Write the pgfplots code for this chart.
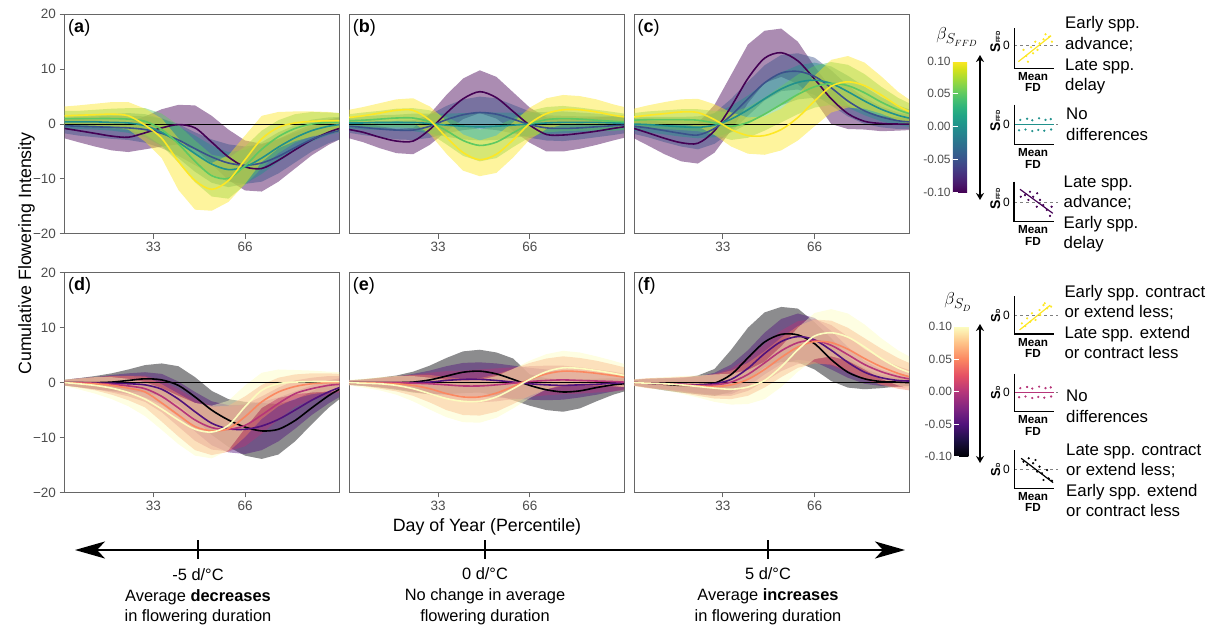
\documentclass[border=0pt]{standalone}
\usepackage{fontspec}
\setmainfont{Liberation Sans}
\usepackage{pgfplots}
\pgfplotsset{compat=1.18}
\usepackage{pgfplotstable}
\usepgfplotslibrary{fillbetween}
\usetikzlibrary{arrows.meta}

\newcommand\fs[1]{\fontsize{#1}{#1}\selectfont}
\definecolor{V1}{HTML}{440154}
\definecolor{V2}{HTML}{3B528B}
\definecolor{V3}{HTML}{21918C}
\definecolor{V4}{HTML}{5EC962}
\definecolor{V5}{HTML}{FDE725}
\definecolor{M1}{HTML}{000004}
\definecolor{M2}{HTML}{51127C}
\definecolor{M3}{HTML}{B63679}
\definecolor{M4}{HTML}{FB8861}
\definecolor{M5}{HTML}{FCFDBF}
\definecolor{frm}{HTML}{666666}
\definecolor{ticklab}{HTML}{4D4D4D}

\pgfplotsset{
  colormap={magma}{rgb255=(0,0,4) rgb255=(28,16,68) rgb255=(79,18,123) rgb255=(129,37,129) rgb255=(181,54,122) rgb255=(229,80,100) rgb255=(251,135,97) rgb255=(254,194,135) rgb255=(252,253,191)},
  panel/.style={scale only axis, width=275pt, height=219.5pt,
    xmin=1, xmax=100, ymin=-20, ymax=20,
    xtick={33,66}, xticklabels={33,66}, ytick={-20,-10,0,10,20},
    axis line style={draw=frm, line width=0.9pt},
    tick style={draw=frm, line width=0.9pt}, tick align=outside, major tick length=5pt,
    xtick pos=left, ytick pos=left,
    tick label style={font=\fs{13.5}, text=ticklab}},
  inset/.style={scale only axis, width=40pt, xmin=0, xmax=10, hide axis, clip=false},
}
\tikzset{plab/.style={anchor=north west, inner sep=0pt, font=\fs{18}, xshift=3.5pt, yshift=-4.5pt}}

\newcommand\rib[3]{%
  \addplot[draw=none, name path=lo#2, forget plot] table[x=x,y=l#2]{#1};
  \addplot[draw=none, name path=hi#2, forget plot] table[x=x,y=h#2]{#1};
  \addplot[fill=#3, fill opacity=0.45, draw=none, forget plot] fill between[of=lo#2 and hi#2];
}
\newcommand\lin[3]{\addplot[#3, line width=1.6pt, smooth, forget plot] table[x=x,y=m#2]{#1};}
\newcommand\allplots[2]{%
  \rib{#1}{1}{#21}\rib{#1}{2}{#22}\rib{#1}{3}{#23}\rib{#1}{4}{#24}\rib{#1}{5}{#25}
  \addplot[black, line width=0.9pt, forget plot] coordinates {(1,0) (100,0)};
  \lin{#1}{1}{#21}\lin{#1}{2}{#22}\lin{#1}{3}{#23}\lin{#1}{4}{#24}\lin{#1}{5}{#25}
}
\newcommand\tl[3]{\node[anchor=base west, inner sep=0pt, font=\fs{16.8}] at (#1pt,-#2pt) {#3};}
\newcommand\ct[4]{\node[anchor=base, inner sep=0pt, font=\fs{#1}] at (#2pt,-#3pt) {#4};}

\pgfplotstableread{
x m1 l1 h1 m2 l2 h2 m3 l3 h3 m4 l4 h4 m5 l5 h5
1 -0.8 -2.6 1.0 -0.3 -1.7 1.1 0.4 -0.8 1.6 1.0 -0.4 2.4 1.5 -0.2 3.2
6 -1.2 -3.3 0.9 -0.4 -2.1 1.3 0.4 -0.9 1.7 1.0 -0.4 2.4 1.6 -0.2 3.4
12 -1.7 -4.1 0.7 -0.5 -2.4 1.4 0.4 -1.0 1.8 1.0 -0.6 2.6 1.7 -0.3 3.7
18 -2.2 -4.8 0.4 -0.6 -2.7 1.5 0.3 -1.2 1.8 1.0 -0.8 2.8 1.8 -0.4 4.0
24 -2.4 -5.1 0.3 -0.7 -2.9 1.5 0.2 -1.6 2.0 0.9 -1.1 2.9 1.5 -1.0 4.0
30 -1.6 -4.6 1.4 -1.0 -3.4 1.4 -0.3 -2.4 1.8 0.5 -1.9 2.9 -0.2 -3.2 2.8
36 -0.7 -4.1 2.7 -1.7 -4.4 1.0 -1.5 -4.0 1.0 -1.0 -3.9 1.9 -2.6 -6.2 1.0
42 -0.1 -3.7 3.5 -2.9 -5.8 0.0 -3.3 -6.2 -0.4 -3.6 -7.0 -0.2 -6.8 -12.0 -2.6
48 -0.7 -4.5 3.4 -4.5 -7.5 -1.5 -5.4 -8.7 -2.1 -6.8 -10.6 -3.0 -10.3 -15.6 -5.6
54 -3.3 -7.3 1.5 -6.0 -9.2 -2.8 -7.3 -10.7 -3.9 -9.4 -13.2 -5.6 -11.9 -15.8 -7.1
60 -6.0 -10.2 -1.0 -7.1 -10.5 -3.7 -8.3 -11.5 -5.1 -9.9 -13.6 -6.2 -10.3 -14.2 -5.7
66 -7.8 -12.1 -3.0 -7.5 -10.9 -4.1 -7.8 -10.9 -4.7 -7.6 -11.1 -4.1 -6.5 -10.9 -2.1
72 -8.1 -12.3 -3.6 -7.1 -10.5 -3.7 -6.2 -9.1 -3.3 -4.6 -8.0 -1.2 -2.7 -6.9 1.5
78 -6.6 -10.5 -2.7 -5.9 -9.0 -2.8 -4.2 -6.9 -1.5 -2.3 -5.3 0.7 -0.6 -4.4 2.2
84 -4.7 -8.1 -1.3 -4.3 -7.0 -1.6 -2.5 -4.8 -0.2 -0.8 -3.4 1.8 0.2 -3.1 2.3
90 -2.9 -5.7 -0.1 -2.8 -5.0 -0.6 -1.2 -3.2 0.8 0.0 -2.2 2.2 0.5 -2.3 2.3
96 -1.5 -3.8 0.8 -1.7 -3.5 0.1 -0.4 -2.0 1.2 0.3 -1.5 2.1 0.6 -1.7 2.2
100 -0.8 -2.8 1.2 -1.2 -2.8 0.4 -0.1 -1.5 1.3 0.4 -1.2 2.0 0.6 -1.4 2.0
}\Ta
\pgfplotstableread{
x m1 l1 h1 m2 l2 h2 m3 l3 h3 m4 l4 h4 m5 l5 h5
1 -1.0 -2.6 0.6 -0.4 -1.6 0.8 0.2 -0.8 1.2 0.6 -0.6 1.8 1.2 -0.2 2.6
6 -1.5 -3.3 0.3 -0.6 -2.0 0.8 0.2 -1.0 1.4 0.7 -0.7 2.1 1.5 -0.1 3.1
12 -2.4 -4.4 -0.4 -0.9 -2.4 0.6 0.3 -1.0 1.6 0.9 -0.6 2.4 2.0 0.2 3.8
18 -3.1 -5.3 -0.9 -1.1 -2.8 0.6 0.3 -1.1 1.7 1.1 -0.6 2.8 2.5 0.5 4.5
24 -3.1 -5.5 -0.7 -1.1 -2.9 0.7 0.3 -1.3 1.9 1.1 -0.7 2.9 2.5 0.3 4.7
30 -1.0 -3.8 1.8 -0.4 -2.5 1.7 0.1 -1.7 1.9 0.4 -1.7 2.5 0.7 -1.8 3.2
36 2.0 -1.3 5.3 0.8 -1.7 3.3 -0.2 -2.3 1.9 -1.2 -3.7 1.3 -2.4 -5.4 0.6
42 4.6 0.9 8.3 1.7 -1.1 4.5 -0.4 -2.8 2.0 -3.0 -5.8 -0.2 -5.2 -8.5 -1.9
48 5.9 2.0 9.8 2.1 -0.8 5.0 -0.5 -3.0 2.0 -3.9 -6.8 -1.0 -6.5 -9.5 -3.0
54 4.8 1.0 8.6 1.8 -1.1 4.7 -0.4 -2.9 2.1 -3.3 -6.2 -0.4 -5.5 -8.9 -2.1
60 2.3 -1.2 5.8 0.9 -1.7 3.5 -0.2 -2.5 2.1 -1.6 -4.2 1.0 -2.9 -6.1 0.3
66 -0.2 -3.4 3.0 -0.1 -2.5 2.3 0.0 -2.1 2.1 0.0 -2.4 2.4 0.1 -2.8 3.0
72 -1.9 -5.0 1.2 -0.7 -3.0 1.6 0.2 -1.8 2.2 0.8 -1.5 3.1 1.9 -0.9 4.7
78 -2.0 -5.0 1.0 -0.8 -3.1 1.5 0.3 -1.7 2.3 1.0 -1.3 3.3 2.6 -0.1 5.3
84 -1.7 -4.5 1.1 -0.7 -2.8 1.4 0.3 -1.5 2.1 0.9 -1.2 3.0 2.6 0.1 5.1
90 -1.3 -3.8 1.2 -0.5 -2.4 1.4 0.3 -1.3 1.9 0.7 -1.2 2.6 2.2 -0.1 4.5
96 -0.8 -3.0 1.4 -0.3 -2.0 1.4 0.2 -1.2 1.6 0.5 -1.2 2.2 1.6 -0.4 3.6
100 -0.5 -2.5 1.5 -0.2 -1.7 1.3 0.2 -1.1 1.5 0.4 -1.1 1.9 1.3 -0.5 3.1
}\Tb
\pgfplotstableread{
x m1 l1 h1 m2 l2 h2 m3 l3 h3 m4 l4 h4 m5 l5 h5
1 -0.8 -2.6 1.0 -0.4 -1.8 1.0 0.0 -1.2 1.2 0.7 -0.6 2.0 1.3 -0.2 2.8
6 -1.6 -3.9 0.7 -0.7 -2.4 1.0 -0.1 -1.5 1.3 0.8 -0.7 2.3 1.6 -0.2 3.4
12 -2.6 -5.5 0.3 -1.2 -3.3 0.9 -0.3 -1.9 1.3 0.8 -0.9 2.5 1.9 -0.2 4.0
18 -3.4 -6.8 0.0 -1.7 -4.1 0.7 -0.5 -2.3 1.3 0.8 -1.1 2.7 2.2 -0.1 4.5
24 -3.5 -7.2 0.2 -2.0 -4.6 0.6 -0.6 -2.6 1.4 0.7 -1.3 2.7 2.1 -0.4 4.6
30 -1.2 -5.2 3.5 -0.8 -3.6 2.0 -0.2 -2.4 2.0 0.2 -2.0 2.4 0.8 -2.0 3.6
36 3.2 -1.1 9.0 1.6 -1.4 4.6 0.9 -1.5 3.3 -0.4 -2.9 2.1 -1.0 -4.1 2.1
42 8.3 3.8 14.5 4.6 1.5 7.7 2.6 0.0 5.2 0.3 -2.5 3.1 -2.1 -5.4 1.2
48 12.0 7.5 17.0 7.5 4.3 10.7 4.6 1.8 7.4 1.8 -1.2 4.8 -2.1 -5.6 1.4
54 13.0 8.6 17.4 9.3 6.0 12.6 6.4 3.4 9.4 3.6 0.3 6.9 -1.0 -4.8 2.8
60 11.5 7.3 15.0 9.6 6.3 12.9 7.6 4.5 10.7 5.4 1.8 9.0 1.2 -3.0 5.4
66 8.2 4.4 10.5 8.7 5.3 12.1 8.0 4.8 11.2 6.8 3.0 10.6 4.2 -0.4 8.8
72 4.6 0.0 6.5 6.6 3.4 9.8 7.4 4.3 10.5 7.4 3.5 11.3 6.9 2.1 11.7
78 1.9 -0.9 3.5 4.2 1.4 7.0 5.9 3.0 8.8 7.0 3.2 10.8 7.7 3.0 12.4
84 0.5 -1.0 2.3 2.4 0.0 4.8 4.2 1.6 6.8 5.7 2.3 9.1 7.0 2.8 11.2
90 0.1 -1.3 1.5 1.3 -0.6 3.2 2.7 0.5 4.9 4.0 1.2 6.8 5.3 1.9 8.7
96 0.0 -1.2 1.2 0.6 -0.9 2.1 1.6 -0.2 3.4 2.6 0.4 4.8 3.3 0.7 5.9
100 0.0 -1.1 1.1 0.4 -0.9 1.7 1.1 -0.5 2.7 1.9 0.0 3.8 2.3 0.1 4.5
}\Tc
\pgfplotstableread{
x m1 l1 h1 m2 l2 h2 m3 l3 h3 m4 l4 h4 m5 l5 h5
1 0.0 -0.5 0.5 0.0 -0.5 0.5 0.0 -0.5 0.5 0.0 -0.5 0.5 0.0 -0.6 0.6
6 0.0 -0.8 0.8 0.0 -0.8 0.8 0.0 -0.8 0.8 -0.1 -0.9 0.7 -0.2 -1.2 0.8
12 0.0 -1.2 1.2 -0.1 -1.2 1.0 -0.1 -1.2 1.0 -0.2 -1.4 1.0 -0.5 -2.0 1.0
18 0.1 -1.5 1.7 -0.1 -1.6 1.4 -0.3 -1.8 1.2 -0.5 -2.2 1.2 -1.0 -3.0 1.0
24 0.4 -1.6 2.4 -0.2 -2.1 1.7 -0.6 -2.5 1.3 -1.0 -3.2 1.2 -1.8 -4.3 0.7
30 0.7 -1.8 3.2 -0.4 -2.7 1.9 -1.1 -3.5 1.3 -1.7 -4.5 1.1 -3.0 -6.1 0.1
36 0.5 -2.5 3.5 -1.2 -4.0 1.6 -2.5 -5.4 0.4 -3.7 -7.1 -0.3 -4.8 -8.6 -1.0
42 -0.5 -4.0 3.0 -3.0 -6.2 0.2 -4.6 -8.0 -1.2 -5.9 -9.8 -2.0 -6.8 -11.2 -2.4
48 -2.6 -6.6 1.0 -5.3 -8.9 -1.7 -6.8 -10.6 -3.0 -8.0 -12.3 -3.7 -8.5 -13.3 -3.7
54 -5.0 -9.5 -1.5 -7.4 -11.4 -3.4 -8.2 -12.2 -4.2 -8.8 -13.2 -4.4 -9.0 -13.8 -4.2
60 -6.8 -11.7 -3.0 -8.4 -12.7 -4.1 -8.5 -12.5 -4.5 -8.4 -12.6 -4.2 -7.8 -12.3 -3.3
66 -8.1 -13.3 -3.5 -8.5 -13.0 -4.0 -7.8 -11.6 -4.0 -6.2 -9.9 -2.5 -4.4 -8.3 -0.5
72 -8.8 -13.9 -3.7 -7.9 -12.3 -3.5 -5.9 -9.3 -2.5 -3.5 -6.6 -0.4 -1.4 -4.6 1.8
78 -8.5 -13.1 -3.9 -6.7 -10.7 -2.7 -3.8 -6.7 -0.9 -1.7 -4.3 0.9 -0.2 -2.8 2.4
84 -6.9 -10.7 -3.1 -5.0 -8.4 -1.6 -2.0 -4.4 0.4 -0.7 -2.9 1.5 0.1 -2.1 2.3
90 -4.6 -7.6 -1.6 -3.2 -5.9 -0.5 -1.1 -3.1 0.9 -0.2 -2.1 1.7 0.2 -1.8 2.2
96 -2.4 -4.6 -0.2 -1.7 -3.8 0.4 -0.5 -2.2 1.2 0.0 -1.7 1.7 0.2 -1.6 2.0
100 -1.2 -3.0 0.6 -0.9 -2.6 0.8 -0.3 -1.8 1.2 0.0 -1.6 1.6 0.2 -1.5 1.9
}\Td
\pgfplotstableread{
x m1 l1 h1 m2 l2 h2 m3 l3 h3 m4 l4 h4 m5 l5 h5
1 0.0 -0.4 0.4 0.0 -0.4 0.4 0.0 -0.4 0.4 0.0 -0.4 0.4 0.0 -0.5 0.5
6 0.0 -0.6 0.6 0.0 -0.5 0.5 0.0 -0.5 0.5 0.0 -0.6 0.6 -0.1 -0.9 0.7
12 0.0 -0.9 0.9 0.0 -0.8 0.8 0.0 -0.8 0.8 -0.1 -1.1 0.9 -0.2 -1.4 1.0
18 0.0 -1.3 1.3 0.0 -1.1 1.1 0.0 -1.1 1.1 -0.2 -1.6 1.2 -0.5 -2.2 1.2
24 0.1 -1.8 2.0 0.0 -1.6 1.6 -0.1 -1.6 1.4 -0.5 -2.4 1.4 -1.1 -3.4 1.2
30 0.5 -2.1 3.1 0.1 -2.0 2.2 -0.2 -2.2 1.8 -1.1 -3.6 1.4 -2.0 -4.9 0.9
36 1.2 -2.1 4.5 0.4 -2.2 3.0 -0.4 -2.9 2.1 -2.0 -5.0 1.0 -2.9 -6.3 0.5
42 1.9 -1.9 5.7 0.6 -2.4 3.6 -0.6 -3.4 2.2 -2.6 -5.9 0.7 -3.4 -7.2 0.4
48 2.1 -1.8 6.0 0.6 -2.5 3.7 -0.6 -3.6 2.4 -2.6 -6.0 0.8 -3.4 -7.3 0.5
54 1.6 -2.3 5.5 0.4 -2.7 3.5 -0.4 -3.4 2.6 -1.9 -5.3 1.5 -2.6 -6.4 1.2
60 0.6 -3.2 4.4 0.1 -2.9 3.1 -0.1 -3.0 2.8 -0.7 -3.9 2.5 -1.1 -4.7 2.5
66 -0.5 -4.2 1.5 -0.2 -3.1 2.7 0.2 -2.6 3.0 0.6 -2.4 3.6 0.6 -2.8 4.0
72 -1.3 -5.0 0.8 -0.4 -3.2 2.4 0.4 -2.3 3.1 1.6 -1.2 4.4 2.0 -1.2 5.2
78 -1.7 -5.3 0.5 -0.5 -3.1 2.1 0.5 -2.1 3.1 2.1 -0.6 4.8 2.7 -0.4 5.8
84 -1.5 -4.7 0.6 -0.4 -2.7 1.9 0.4 -2.0 2.8 2.0 -0.5 4.5 2.6 -0.3 5.5
90 -0.9 -3.4 0.7 -0.3 -2.2 1.6 0.3 -1.8 2.4 1.7 -0.6 4.0 2.2 -0.4 4.8
96 -0.4 -2.2 0.8 -0.1 -1.6 1.4 0.2 -1.6 2.0 1.3 -0.7 3.3 1.7 -0.6 4.0
100 -0.2 -1.6 0.8 0.0 -1.2 1.2 0.1 -1.4 1.6 1.0 -0.8 2.8 1.3 -0.8 3.4
}\Te
\pgfplotstableread{
x m1 l1 h1 m2 l2 h2 m3 l3 h3 m4 l4 h4 m5 l5 h5
1 0.0 -0.5 0.5 0.0 -0.5 0.5 0.0 -0.5 0.5 0.0 -0.6 0.6 0.0 -0.6 0.6
6 -0.1 -0.9 0.7 -0.1 -0.9 0.7 -0.1 -0.9 0.7 -0.1 -1.0 0.8 -0.1 -1.0 0.8
12 -0.3 -1.4 0.8 -0.2 -1.2 0.8 -0.2 -1.2 0.8 -0.2 -1.3 0.9 -0.2 -1.4 1.0
18 -0.5 -1.8 0.8 -0.3 -1.5 0.9 -0.3 -1.6 1.0 -0.4 -1.8 1.0 -0.4 -2.0 1.2
24 -0.4 -2.1 1.3 -0.4 -1.9 1.1 -0.5 -2.1 1.1 -0.6 -2.4 1.2 -0.7 -2.7 1.3
30 -0.1 -2.4 2.5 -0.2 -2.2 1.8 -0.4 -2.4 1.6 -0.7 -2.9 1.5 -1.0 -3.5 1.5
36 1.5 -1.7 6.0 0.6 -2.1 3.3 0.1 -2.4 2.6 -0.4 -3.0 2.2 -1.2 -4.0 1.6
42 4.5 0.5 10.0 2.6 -0.7 5.9 1.5 -1.5 4.5 0.6 -2.4 3.6 -0.8 -3.9 2.3
48 7.4 2.8 12.8 5.3 1.5 9.1 3.6 0.2 7.0 2.4 -0.9 5.7 0.4 -3.0 3.8
54 8.8 3.8 13.8 7.5 3.4 11.6 5.8 2.1 9.5 4.6 1.0 8.2 2.9 -0.8 6.6
60 8.7 3.7 13.5 8.4 4.2 12.6 7.3 3.4 11.2 6.5 2.7 10.3 6.0 2.0 10.0
66 7.1 2.4 11.0 7.8 3.8 11.8 7.7 3.8 11.6 7.5 3.5 11.5 8.5 4.3 12.7
72 4.2 0.3 8.1 5.9 2.4 9.4 6.8 3.1 10.5 7.3 3.3 11.3 9.1 4.8 13.4
78 1.9 -0.9 4.7 3.7 0.9 6.5 5.1 1.8 8.4 6.1 2.2 10.0 8.3 4.0 12.6
84 0.7 -1.2 2.6 1.9 -0.2 4.0 3.3 0.5 6.1 4.4 0.7 8.1 6.5 2.4 10.6
90 0.2 -1.0 1.4 0.9 -0.6 2.4 2.0 -0.3 4.3 2.9 -0.4 6.2 4.4 0.7 8.1
96 0.1 -0.7 0.9 0.4 -0.7 1.5 1.1 -0.8 3.0 1.7 -1.1 4.5 2.7 -0.5 5.9
100 0.0 -0.6 0.6 0.3 -0.6 1.2 0.7 -0.9 2.3 1.1 -1.4 3.6 1.9 -1.0 4.8
}\Tf

\begin{document}
\begin{tikzpicture}
\path (0pt,-627pt) rectangle (1215pt,0pt);

% ---------- top row ----------
\begin{axis}[panel, at={(64.5pt,-14.3pt)}, anchor=north west, yticklabels={−20,−10,0,10,20}]
\allplots{\Ta}{V}
\node[plab] at (rel axis cs:0,1) {(\textbf{a})};
\end{axis}
\begin{axis}[panel, at={(349.2pt,-14.3pt)}, anchor=north west, ytick=\empty]
\allplots{\Tb}{V}
\node[plab] at (rel axis cs:0,1) {(\textbf{b})};
\end{axis}
\begin{axis}[panel, at={(634pt,-14.3pt)}, anchor=north west, ytick=\empty]
\allplots{\Tc}{V}
\node[plab] at (rel axis cs:0,1) {(\textbf{c})};
\end{axis}

% ---------- bottom row ----------
\begin{axis}[panel, at={(64.5pt,-272.9pt)}, anchor=north west, yticklabels={−20,−10,0,10,20}]
\allplots{\Td}{M}
\node[plab] at (rel axis cs:0,1) {(\textbf{d})};
\end{axis}
\begin{axis}[panel, at={(349.2pt,-272.9pt)}, anchor=north west, ytick=\empty]
\allplots{\Te}{M}
\node[plab] at (rel axis cs:0,1) {(\textbf{e})};
\end{axis}
\begin{axis}[panel, at={(634pt,-272.9pt)}, anchor=north west, ytick=\empty]
\allplots{\Tf}{M}
\node[plab] at (rel axis cs:0,1) {(\textbf{f})};
\end{axis}

% axis titles
\node[rotate=90, anchor=base, inner sep=0pt, font=\fs{17.8}] at (31pt,-253.5pt) {Cumulative Flowering Intensity};
\ct{17.8}{487}{531.5}{Day of Year (Percentile)}

% ---------- colorbars ----------
\begin{axis}[at={(944.3pt,-192.3pt)}, anchor=south west, scale only axis, width=26.5pt, height=131.3pt,
  hide axis, xmin=0, xmax=1, ymin=0, ymax=1,
  colormap/viridis, point meta min=-0.1, point meta max=0.1, colorbar,
  colorbar style={at={(parent axis.south west)}, anchor=south west, width=26.5pt, height=131.3pt, scale only axis,
    ytick={-0.1,-0.05,0,0.05,0.1}, yticklabels={-0.10,-0.05,0.00,0.05,0.10},
    yticklabel pos=left, ytick pos=both, tick align=inside, major tick length=5pt,
    ytick style={draw=white, line width=0.8pt}, axis line style={draw=none},
    yticklabel style={font=\fs{12}, text=ticklab, inner sep=2pt}}]
\addplot[draw=none] coordinates {(0.5,0.5)};
\end{axis}
\node[font=\fs{19}] at (957pt,-37pt) {$\beta_{S_{FFD}}$};

\begin{axis}[at={(945.7pt,-456.7pt)}, anchor=south west, scale only axis, width=26pt, height=130pt,
  hide axis, xmin=0, xmax=1, ymin=0, ymax=1,
  colormap name=magma, point meta min=-0.1, point meta max=0.1, colorbar,
  colorbar style={at={(parent axis.south west)}, anchor=south west, width=26pt, height=130pt, scale only axis,
    ytick={-0.1,-0.05,0,0.05,0.1}, yticklabels={-0.10,-0.05,0.00,0.05,0.10},
    yticklabel pos=left, ytick pos=both, tick align=inside, major tick length=5pt,
    ytick style={draw=white, line width=0.8pt}, axis line style={draw=none},
    yticklabel style={font=\fs{12}, text=ticklab, inner sep=2pt}}]
\addplot[draw=none] coordinates {(0.5,0.5)};
\end{axis}
\node[font=\fs{19}] at (958pt,-302pt) {$\beta_{S_D}$};

\draw[line width=1.1pt, {Stealth[length=7pt,width=8pt]}-{Stealth[length=7pt,width=8pt]}] (980pt,-55pt) -- (980pt,-200pt);
\draw[line width=1.1pt, {Stealth[length=7pt,width=8pt]}-{Stealth[length=7pt,width=8pt]}] (980pt,-324pt) -- (980pt,-463pt);

% ---------- insets ----------
\begin{axis}[inset, at={(1014.3pt,-68.3pt)}, anchor=south west, height=40pt, ymin=-5.7, ymax=4.3]
\addplot[gray, dashed, line width=0.7pt] coordinates {(0,0) (11,0)};
\addplot[only marks, mark=*, mark size=0.9pt, V5] coordinates {(3.4,-4.05) (4.7,-1.95) (3.0,-2.6) (5.8,-1.1) (6.3,0.55) (7.3,1.55) (7.8,2.8) (8.75,2.2) (9.4,0.95) (4.2,-0.45) (2.3,-1.1) (5.25,0.95)};
\addplot[V5, line width=1.2pt] coordinates {(1,-4.05) (9.2,2.45)};
\draw[black, line width=1.1pt] (rel axis cs:0,1) -- (rel axis cs:0,0) -- (rel axis cs:1,0);
\end{axis}
\begin{axis}[inset, at={(1014.3pt,-144.7pt)}, anchor=south west, height=40pt, ymin=-5.1, ymax=4.9]
\addplot[gray, dashed, line width=0.7pt] coordinates {(0,0) (11,0)};
\addplot[only marks, mark=*, mark size=0.9pt, V3] coordinates {(1.5,1.1) (3.2,1.4) (4.5,1.0) (6.2,1.5) (7.8,1.1) (9.1,1.3) (1.2,-1.5) (2.8,-1.3) (4.5,-1.7) (6.0,-1.4) (7.5,-1.6) (9.2,-1.3)};
\addplot[V3, line width=1.2pt] coordinates {(0.2,0) (10,0)};
\draw[black, line width=1.1pt] (rel axis cs:0,1) -- (rel axis cs:0,0) -- (rel axis cs:1,0);
\end{axis}
\begin{axis}[inset, at={(1014pt,-221.7pt)}, anchor=south west, height=40pt, ymin=-4.85, ymax=5.15]
\addplot[gray, dashed, line width=0.7pt] coordinates {(0,0) (11,0)};
\addplot[only marks, mark=*, mark size=0.9pt, V1] coordinates {(2.75,1.8) (4.0,2.65) (4.8,1.4) (5.8,2.25) (6.5,0.6) (7.3,-0.7) (5.7,-1.1) (8.2,-1.9) (9.0,-3.4) (9.4,-1.1) (3.6,0.6) (1.7,1.4)};
\addplot[V1, line width=1.2pt] coordinates {(1.5,3.25) (9.7,-2.75)};
\draw[black, line width=1.1pt] (rel axis cs:0,1) -- (rel axis cs:0,0) -- (rel axis cs:1,0);
\end{axis}
\begin{axis}[inset, at={(1014.3pt,-334pt)}, anchor=south west, height=38pt, ymin=-5, ymax=5]
\addplot[gray, dashed, line width=0.7pt] coordinates {(0,0) (11,0)};
\addplot[only marks, mark=*, mark size=0.9pt, V5] coordinates {(1.9,-2.2) (3.2,-0.9) (4.4,0.45) (5.3,-1.3) (6.3,1.3) (7.3,2.6) (8.2,1.75) (9.2,2.2) (7.6,3.1) (6.5,0) (4.0,-1.75) (2.75,-2.9)};
\addplot[V5, line width=1.2pt] coordinates {(1.3,-3.95) (9.0,2.6)};
\draw[black, line width=1.1pt] (rel axis cs:0,1) -- (rel axis cs:0,0) -- (rel axis cs:1,0);
\end{axis}
\begin{axis}[inset, at={(1014.3pt,-411.7pt)}, anchor=south west, height=38pt, ymin=-5.1, ymax=4.9]
\addplot[gray, dashed, line width=0.7pt] coordinates {(0,0) (11,0)};
\addplot[only marks, mark=*, mark size=0.9pt, M3] coordinates {(1.5,1.1) (3.2,1.4) (4.5,1.0) (6.2,1.5) (7.8,1.1) (9.1,1.3) (1.2,-1.3) (2.8,-1.1) (4.5,-1.5) (6.0,-1.2) (7.5,-1.4) (9.2,-1.1)};
\addplot[M3, line width=1.2pt] coordinates {(0.2,0) (10,0)};
\draw[black, line width=1.1pt] (rel axis cs:0,1) -- (rel axis cs:0,0) -- (rel axis cs:1,0);
\end{axis}
\begin{axis}[inset, at={(1014.3pt,-488.3pt)}, anchor=south west, height=38pt, ymin=-5, ymax=5]
\addplot[gray, dashed, line width=0.7pt] coordinates {(0,0) (11,0)};
\addplot[only marks, mark=*, mark size=0.9pt, black] coordinates {(2.3,2.0) (3.6,2.9) (4.7,1.6) (5.3,2.45) (6.3,0.7) (6.9,-1.05) (5.7,-0.6) (8.2,-0.2) (8.6,-2.4) (9.4,-3.0) (3.2,1.1) (7.3,-2.8)};
\addplot[black, line width=1.2pt] coordinates {(1.7,2.9) (9.7,-3.5)};
\draw[black, line width=1.1pt] (rel axis cs:0,1) -- (rel axis cs:0,0) -- (rel axis cs:1,0);
\end{axis}

% inset labels
\node[rotate=90, anchor=base, inner sep=0pt, font=\bfseries\fs{14}] at (1000pt,-41.7pt) {S\fs{6}FFD};
\node[rotate=90, anchor=base, inner sep=0pt, font=\bfseries\fs{14}] at (1000pt,-120.5pt) {S\fs{6}FFD};
\node[rotate=90, anchor=base, inner sep=0pt, font=\bfseries\fs{14}] at (1000pt,-198.5pt) {S\fs{6}FFD};
\node[rotate=90, anchor=base, inner sep=0pt, font=\bfseries\fs{13}] at (1000pt,-315.5pt) {S\fs{6}D};
\node[rotate=90, anchor=base, inner sep=0pt, font=\bfseries\fs{13}] at (1000pt,-392.5pt) {S\fs{6}D};
\node[rotate=90, anchor=base, inner sep=0pt, font=\bfseries\fs{13}] at (1000pt,-469.5pt) {S\fs{6}D};
\foreach \yy in {45.5,124.3,202.3,315,392.3,469.3} {\node[font=\fs{12}, inner sep=0pt] at (1006.5pt,-\yy pt) {0};}
\foreach \yy in {68.3,144.7,221.7,334,411.7,488.3} {
  \node[anchor=base, inner sep=0pt, font=\bfseries\fs{11.7}] at (1033pt,-\yy pt-12pt) {Mean};
  \node[anchor=base, inner sep=0pt, font=\bfseries\fs{11.7}] at (1033pt,-\yy pt-23.5pt) {FD};
}

% right-hand texts
\tl{1065}{28.3}{Early spp.}
\tl{1065}{49.3}{advance;}
\tl{1065}{70}{Late spp.}
\tl{1065}{90.5}{delay}
\tl{1066}{119.3}{No}
\tl{1066}{140}{differences}
\tl{1063.5}{187.3}{Late spp.}
\tl{1063.5}{207.8}{advance;}
\tl{1063.5}{228.3}{Early spp.}
\tl{1063.5}{248.8}{delay}
\tl{1064.3}{297.3}{Early spp. contract}
\tl{1064.3}{317.8}{or extend less;}
\tl{1064.3}{338.3}{Late spp. extend}
\tl{1064.3}{358.8}{or contract less}
\tl{1066}{401.7}{No}
\tl{1066}{422.3}{differences}
\tl{1066}{455}{Late spp. contract}
\tl{1066}{475.5}{or extend less;}
\tl{1066}{496}{Early spp. extend}
\tl{1066}{516.5}{or contract less}

% ---------- bottom arrow ----------
\draw[line width=2pt, {Stealth[length=30pt,width=17pt,inset=8pt]}-{Stealth[length=30pt,width=17pt,inset=8pt]}] (75pt,-550pt) -- (905pt,-550pt);
\foreach \xx in {197.7,485,768} {\draw[line width=2pt] (\xx pt,-540pt) -- (\xx pt,-558.5pt);}
\ct{16.4}{198}{580}{-5 d/°C}
\ct{16.4}{198}{601}{Average \textbf{decreases}}
\ct{16.4}{198}{621}{in flowering duration}
\ct{16.4}{485}{579}{0 d/°C}
\ct{16.4}{485}{600.5}{No change in average}
\ct{16.4}{485}{621}{flowering duration}
\ct{16.4}{768}{579}{5 d/°C}
\ct{16.4}{768}{600.5}{Average \textbf{increases}}
\ct{16.4}{768}{621}{in flowering duration}
\end{tikzpicture}
\end{document}
